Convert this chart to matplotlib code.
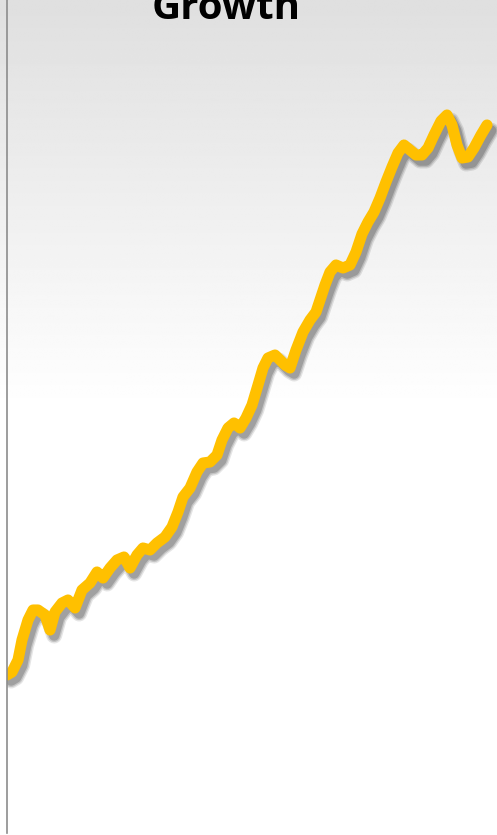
import numpy as np
import matplotlib.pyplot as plt
import matplotlib.patheffects as pe

# period index and value
period = [0, 5, 11, 15, 21, 26, 31, 38, 43, 48, 55, 61, 68, 75, 83, 90, 96, 103,
          110, 117, 123, 130, 136, 143, 150, 158, 165, 171, 176, 183, 190, 196,
          203, 210, 215, 221, 227, 233, 239, 245, 251, 256, 261, 268, 273, 278,
          283, 289, 296, 303, 309, 313, 318, 323, 329, 336, 343, 349, 355, 361,
          367, 373, 379, 385, 391, 397, 403, 409, 415, 421, 427, 434, 440, 445,
          450, 455, 461, 467, 474, 480]
value = [158, 161, 173, 193, 213, 223, 223, 218, 203, 221, 230, 233, 225, 243,
         250, 261, 255, 265, 273, 276, 265, 278, 285, 283, 290, 296, 306, 321,
         336, 345, 361, 370, 371, 378, 393, 405, 410, 405, 415, 428, 448, 465,
         475, 478, 473, 468, 465, 483, 501, 513, 521, 533, 548, 561, 568, 565,
         568, 581, 599, 611, 621, 635, 651, 666, 680, 688, 683, 678, 678, 685,
         698, 712, 718, 708, 688, 675, 676, 685, 698, 708]

W, H = 497, 835
fig = plt.figure(figsize=(W / 100, H / 100), dpi=100)

# gradient background
bg = fig.add_axes([0, 0, 1, 1], zorder=-1)
bg.set_axis_off()
yy = np.linspace(0, 1, 400)
shade = np.clip(0.875 + (1 - 0.875) * yy / (410 / H), 0, 1)
img = np.repeat(shade[:, None], 2, axis=1)
bg.imshow(img, cmap="gray", vmin=0, vmax=1, aspect="auto",
          extent=[0, 1, 1, 0], interpolation="bilinear")
bg.set_xlim(0, 1)
bg.set_ylim(1, 0)

ax = fig.add_axes([7 / W, 2 / H, (W - 7) / W, (H - 2) / H])
ax.set_facecolor("none")
ax.plot(period, value, color="#FFC000", lw=8, solid_joinstyle="round",
        solid_capstyle="round",
        path_effects=[pe.SimpleLineShadow(offset=(3, -4), shadow_color="k", alpha=0.10, linewidth=11.5),
                      pe.SimpleLineShadow(offset=(3, -4), shadow_color="k", alpha=0.14, linewidth=9.5),
                      pe.SimpleLineShadow(offset=(3, -4), shadow_color="k", alpha=0.18, linewidth=7.5),
                      pe.Normal()])
ax.set_xlim(0, 490)
ax.set_ylim(0, 833)
ax.set_xticks([])
ax.set_yticks([])
for s in ["top", "right", "bottom"]:
    ax.spines[s].set_visible(False)
ax.spines["left"].set_color("#8c8c8c")
ax.spines["left"].set_linewidth(1.2)

fig.text(226 / W, (H - 19) / H, "Growth", ha="center", va="baseline",
         fontsize=29, fontweight="bold", family="Open Sans")

fig.savefig("out.png", dpi=100)
